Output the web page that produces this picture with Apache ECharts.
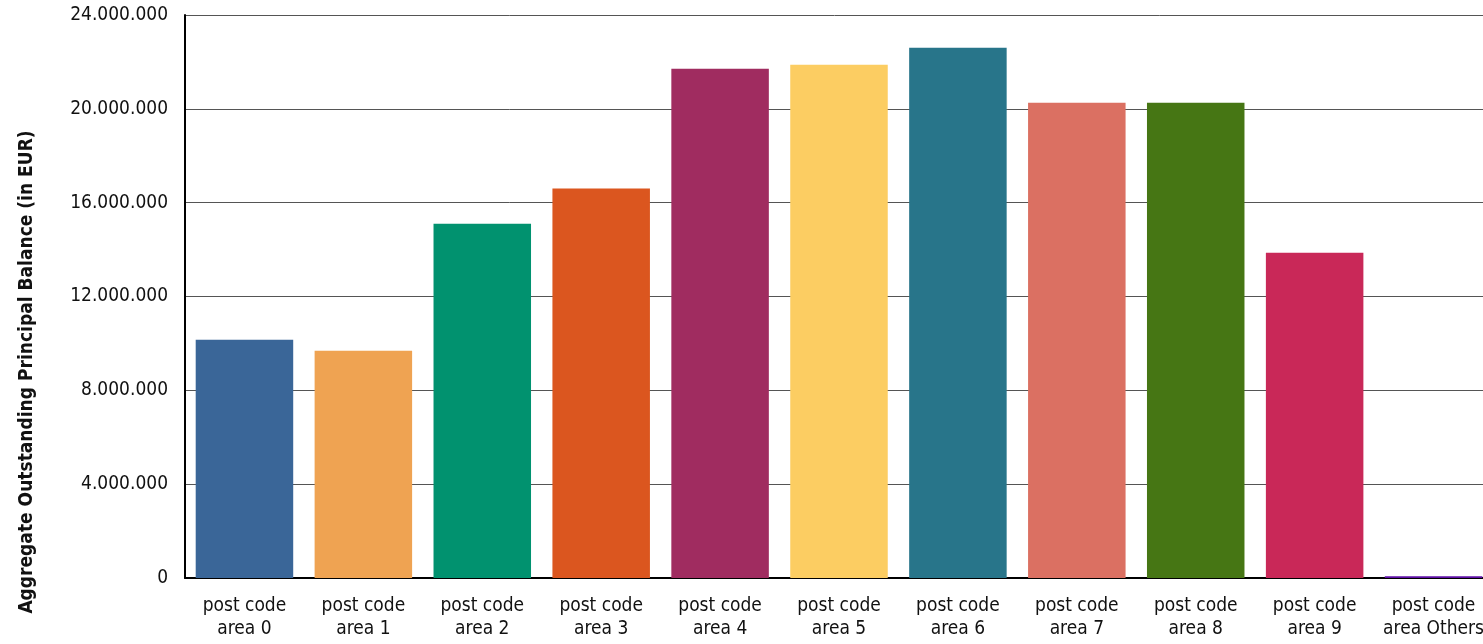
<!DOCTYPE html>
<html><head><meta charset="utf-8">
<script src="https://cdn.jsdelivr.net/npm/echarts@6/dist/echarts.min.js"></script>
<style>html,body{margin:0;padding:0;background:#fff}#c{width:1483px;height:644px}</style>
</head><body><div id="c"></div>
<script>
const categories = ["post code\narea 0","post code\narea 1","post code\narea 2","post code\narea 3","post code\narea 4","post code\narea 5","post code\narea 6","post code\narea 7","post code\narea 8","post code\narea 9","post code\narea Others"];
const values = [10160000, 9690000, 15100000, 16600000, 21710000, 21880000, 22600000, 20260000, 20260000, 13870000, 70000];
const colors = ["#3A6698","#EFA352","#01926F","#DB561F","#A02C60","#FCCD62","#28758A","#DB7062","#467614","#C92858","#5E0FA6"];
const yTicks = [0, 4000000, 8000000, 12000000, 16000000, 20000000, 24000000];
const yTitle = 'Aggregate Outstanding Principal Balance (in EUR)';
const font = "'DejaVu Sans Condensed','Liberation Sans Narrow',sans-serif";
const fmt = v => String(v).replace(/\B(?=(\d{3})+(?!\d))/g, ".");
const chart = echarts.init(document.getElementById('c'));
chart.setOption({
  animation:false,
  grid:{left:185,right:-10,top:15,bottom:66,containLabel:false,outerBoundsMode:'none'},
  graphic:[{type:'text',x:27,y:372,rotation:Math.PI/2,
    style:{text:yTitle,fill:'#111',font:"bold 19px " + font,align:'center',verticalAlign:'middle'}}],
  xAxis:{type:'category',data:categories,
    axisLine:{lineStyle:{color:'#000',width:2}},axisTick:{show:false},
    axisLabel:{color:'#111',fontFamily:font,fontSize:19,lineHeight:23,margin:17,interval:0}},
  yAxis:{type:'value',min:yTicks[0],max:yTicks[yTicks.length-1],interval:4000000,
    axisLine:{show:true,lineStyle:{color:'#000',width:2}},axisTick:{show:false},
    axisLabel:{color:'#111',fontFamily:font,fontSize:19,margin:17,formatter:fmt},
    splitLine:{lineStyle:{color:'#555',width:1}}},
  series:[{type:'bar',barCategoryGap:'18%',
    data:values.map((v,i)=>({value:v,itemStyle:{color:colors[i]}}))}]
});
</script></body></html>
